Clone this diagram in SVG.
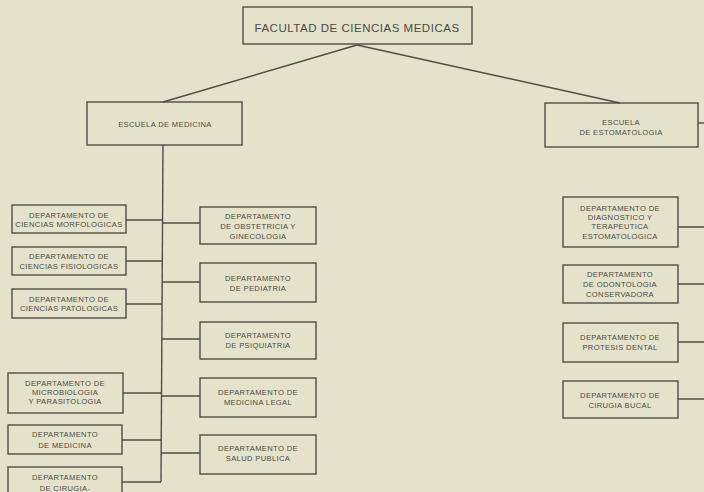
<svg xmlns="http://www.w3.org/2000/svg" width="704" height="492" viewBox="0 0 704 492">
<style>
.bg{fill:#e5e2cb}
.box{fill:none;stroke:#4d4d48;stroke-width:1.4}
.ln{fill:none;stroke:#4d4d48;stroke-width:1.4}
text{font-family:"Liberation Sans",Arial,sans-serif;fill:#4a4a45;text-anchor:middle;dominant-baseline:central}
.t{font-size:11.5px;letter-spacing:0.4px}
.s{font-size:7.6px;letter-spacing:0.35px}
</style>
<rect class="bg" x="0" y="0" width="704" height="492"/>
<g id="connectors">
<path class="ln" d="M357 45 L163 102 M357 45 L620 103"/>
<path class="ln" d="M163 145 L161 482"/>
<path class="ln" d="M698 123 L704 123"/>
<path class="ln" d="M126 220 L162 220 M126 261 L162 261 M126 304 L162 304 M123 393 L161 393 M122 440 L161 440 M122 482 L161 482"/>
<path class="ln" d="M162 223 L200 223 M162 282 L200 282 M162 339 L200 339 M161 396 L200 396 M161 453 L200 453"/>
<path class="ln" d="M678 227 L704 227 M678 284 L704 284 M678 342 L704 342 M678 399 L704 399"/>
</g>
<g id="facultad"><rect class="box" x="243" y="7" width="229" height="37"/><text class="t" x="357" y="28" textLength="205" lengthAdjust="spacing">FACULTAD DE CIENCIAS MEDICAS</text></g>
<g id="esc-medicina"><rect class="box" x="87" y="102" width="155" height="43"/><text class="s" x="165" y="124">ESCUELA DE MEDICINA</text></g>
<g id="esc-estomatologia"><rect class="box" x="545" y="103" width="153" height="44"/><text class="s" x="621" y="122">ESCUELA</text><text class="s" x="621" y="132">DE ESTOMATOLOGIA</text></g>
<g id="d-morfologicas"><rect class="box" x="12" y="205" width="114" height="28"/><text class="s" x="69" y="215">DEPARTAMENTO DE</text><text class="s" x="69" y="224">CIENCIAS MORFOLOGICAS</text></g>
<g id="d-fisiologicas"><rect class="box" x="12" y="247" width="114" height="28"/><text class="s" x="69" y="256">DEPARTAMENTO DE</text><text class="s" x="69" y="266">CIENCIAS FISIOLOGICAS</text></g>
<g id="d-patologicas"><rect class="box" x="12" y="289" width="114" height="29"/><text class="s" x="69" y="299">DEPARTAMENTO DE</text><text class="s" x="69" y="308">CIENCIAS PATOLOGICAS</text></g>
<g id="d-microbiologia"><rect class="box" x="8" y="373" width="115" height="40"/><text class="s" x="65" y="383">DEPARTAMENTO DE</text><text class="s" x="65" y="392">MICROBIOLOGIA</text><text class="s" x="65" y="401">Y PARASITOLOGIA</text></g>
<g id="d-medicina"><rect class="box" x="8" y="425" width="114" height="29"/><text class="s" x="65" y="434">DEPARTAMENTO</text><text class="s" x="65" y="445">DE MEDICINA</text></g>
<g id="d-cirugia"><rect class="box" x="8" y="467" width="114" height="40"/><text class="s" x="65" y="477">DEPARTAMENTO</text><text class="s" x="65" y="488">DE CIRUGIA-</text></g>
<g id="d-obstetricia"><rect class="box" x="200" y="207" width="116" height="37"/><text class="s" x="258" y="216">DEPARTAMENTO</text><text class="s" x="258" y="226">DE OBSTETRICIA Y</text><text class="s" x="258" y="236">GINECOLOGIA</text></g>
<g id="d-pediatria"><rect class="box" x="200" y="263" width="116" height="39"/><text class="s" x="258" y="278">DEPARTAMENTO</text><text class="s" x="258" y="288">DE PEDIATRIA</text></g>
<g id="d-psiquiatria"><rect class="box" x="200" y="322" width="116" height="37"/><text class="s" x="258" y="335">DEPARTAMENTO</text><text class="s" x="258" y="345">DE PSIQUIATRIA</text></g>
<g id="d-legal"><rect class="box" x="200" y="378" width="116" height="39"/><text class="s" x="258" y="392">DEPARTAMENTO DE</text><text class="s" x="258" y="402">MEDICINA LEGAL</text></g>
<g id="d-salud"><rect class="box" x="200" y="435" width="116" height="39"/><text class="s" x="258" y="448">DEPARTAMENTO DE</text><text class="s" x="258" y="458">SALUD PUBLICA</text></g>
<g id="d-diagnostico"><rect class="box" x="563" y="197" width="115" height="50"/><text class="s" x="620" y="208">DEPARTAMENTO DE</text><text class="s" x="620" y="217">DIAGNOSTICO Y</text><text class="s" x="620" y="226">TERAPEUTICA</text><text class="s" x="620" y="236">ESTOMATOLOGICA</text></g>
<g id="d-odontologia"><rect class="box" x="563" y="265" width="115" height="38"/><text class="s" x="620" y="274">DEPARTAMENTO</text><text class="s" x="620" y="284">DE ODONTOLOGIA</text><text class="s" x="620" y="294">CONSERVADORA</text></g>
<g id="d-protesis"><rect class="box" x="563" y="323" width="115" height="39"/><text class="s" x="620" y="337">DEPARTAMENTO DE</text><text class="s" x="620" y="347">PROTESIS DENTAL</text></g>
<g id="d-bucal"><rect class="box" x="563" y="381" width="115" height="37"/><text class="s" x="620" y="395">DEPARTAMENTO DE</text><text class="s" x="620" y="405">CIRUGIA BUCAL</text></g>
</svg>
